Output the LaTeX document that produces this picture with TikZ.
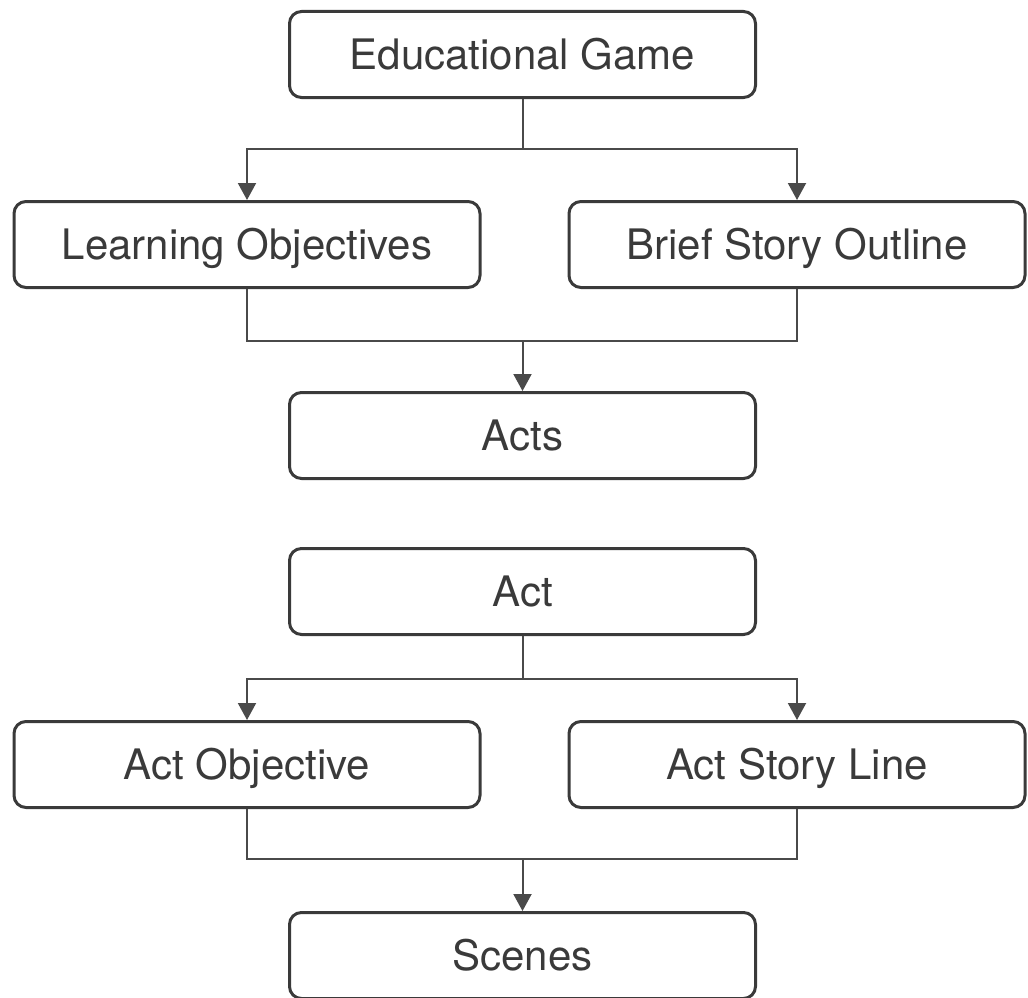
\documentclass[tikz,border=0pt]{standalone}
\usepackage{fontspec}
\setmainfont{TeX Gyre Heros}
\usetikzlibrary{arrows.meta}
\definecolor{boxgray}{HTML}{3A3A3A}
\definecolor{linegray}{HTML}{4A4A4A}
\tikzset{
  block/.style={draw=boxgray, line width=3pt, rounded corners=12pt,
    minimum width=466pt, minimum height=86pt, inner sep=0pt,
    text=boxgray, font=\fontsize{42}{50}\selectfont,
    text height=30pt, text depth=0pt},
  link/.style={draw=linegray, line width=2pt},
  flow/.style={link, -{Triangle[width=18pt,length=17pt]}}
}
\begin{document}
\begin{tikzpicture}[y=1pt, x=1pt, yscale=-1]
\useasboundingbox (0,0) rectangle (1028,998);
% first part: the game
\node (game) at (522.5,54.5) [block] {Educational Game};
\node (learn) at (247,244.5) [block] {Learning Objectives};
\node (story) at (797,244.5) [block, minimum width=456pt] {Brief Story Outline};
\node (acts) at (522.5,435.5) [block] {Acts};
\coordinate (fork1) at (522.5,149);
\coordinate (join1) at (522.5,341);
\draw[link] (game.south) -- (fork1);
\draw[flow] (fork1) -| (learn.north);
\draw[flow] (fork1) -| (story.north);
\draw[link] (learn.south) |- (join1) -| (story.south);
\draw[flow] (join1) -- (acts.north);
% second part: one act
\node (act) at (522.5,591.5) [block] {Act};
\node (actobj) at (247,764.5) [block] {Act Objective};
\node (actline) at (797,764.5) [block, minimum width=456pt] {Act Story Line};
\node (scenes) at (522.5,955.5) [block] {Scenes};
\coordinate (fork2) at (522.5,679);
\coordinate (join2) at (522.5,859);
\draw[link] (act.south) -- (fork2);
\draw[flow] (fork2) -| (actobj.north);
\draw[flow] (fork2) -| (actline.north);
\draw[link] (actobj.south) |- (join2) -| (actline.south);
\draw[flow] (join2) -- (scenes.north);
\end{tikzpicture}
\end{document}
